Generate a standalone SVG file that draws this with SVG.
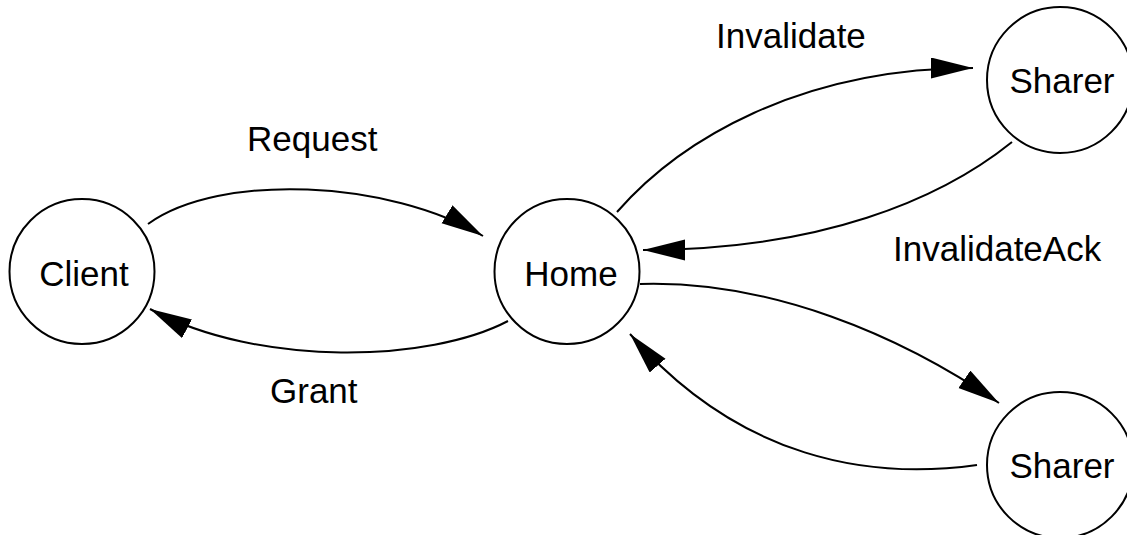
<svg xmlns="http://www.w3.org/2000/svg" width="1127" height="535" viewBox="0 0 1127 535">
<style>
.node circle{fill:#fff;stroke:#000;stroke-width:2}
text{font-family:"Liberation Sans",Arial,sans-serif;font-size:35px;fill:#000}
.nl{text-anchor:middle}
#edges path{fill:none;stroke:#000;stroke-width:2;marker-end:url(#ah)}
</style>
<defs>
<marker id="ah" markerUnits="userSpaceOnUse" markerWidth="44" markerHeight="22" refX="42" refY="10.5" orient="auto">
<path d="M0,0 L42,10.5 L0,21 z" fill="#000"/>
</marker>
</defs>
<rect width="1127" height="535" fill="#fff"/>
<g id="client" class="node"><circle cx="82" cy="271.5" r="72.5"/><text class="nl" x="84" y="286">Client</text></g>
<g id="home" class="node"><circle cx="567" cy="271.5" r="72.5"/><text class="nl" x="571" y="286">Home</text></g>
<g id="sharer1" class="node"><circle cx="1060" cy="80" r="73"/><text class="nl" x="1062" y="93">Sharer</text></g>
<g id="sharer2" class="node"><circle cx="1060" cy="465" r="73"/><text class="nl" x="1062" y="478">Sharer</text></g>
<g id="edges">
<path d="M148,224 C220,172 390,180 483,236"/>
<path d="M508,321 C430,362 260,368 150,309"/>
<path d="M617,212 C680,140 800,68 973,68"/>
<path d="M1012,142 C940,200 820,250 643,250"/>
<path d="M640,284 C770,280 900,335 999,403"/>
<path d="M977,465 C870,480 740,460 630,334"/>
</g>
<g id="labels">
<text x="247" y="151">Request</text>
<text x="270" y="403">Grant</text>
<text x="716" y="48">Invalidate</text>
<text x="893" y="261">InvalidateAck</text>
</g>
</svg>
